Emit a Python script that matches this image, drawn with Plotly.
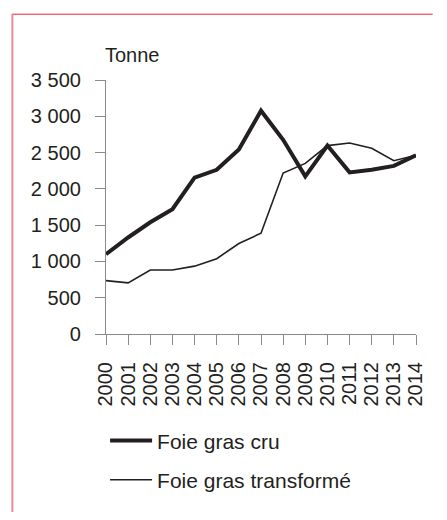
import plotly.graph_objects as go

years = list(range(2000, 2015))
foie_gras_cru = [1100, 1330, 1540, 1720, 2155, 2262, 2543, 3077, 2676, 2173,
                 2596, 2227, 2262, 2316, 2463]
foie_gras_transforme = [735, 704, 882, 882, 935, 1038, 1247, 1389, 2218, 2351,
                        2596, 2632, 2560, 2387, 2463]
y_tickvals = [0, 500, 1000, 1500, 2000, 2500, 3000, 3500]
y_ticktext = ["0", "500", "1 000", "1 500", "2 000", "2 500", "3 000", "3 500"]

INK = "#231f20"
AXIS = "#8a8a8a"
FRAME = "#e5243b"
FRAME_SIDE = "#f2899a"
FONT = "Liberation Sans, Arial, sans-serif"

fig = go.Figure()
fig.add_trace(go.Scatter(
    x=years, y=foie_gras_cru, mode="lines", name="Foie gras cru",
    line=dict(color=INK, width=4), legendgroup="a",
))
fig.add_trace(go.Scatter(
    x=years, y=foie_gras_transforme, mode="lines", name="Foie gras transformé",
    line=dict(color=INK, width=1.6), legendgroup="b",
))

# page body keeps an 8px margin, so the figure is sized to fit inside it
fig.update_layout(
    width=431, height=504,
    margin=dict(l=98, r=17, t=72, b=170),
    plot_bgcolor="white", paper_bgcolor="white",
    font=dict(family=FONT, size=20, color=INK),
    showlegend=True,
    legend=dict(
        x=-0.003, y=-0.34, xanchor="left", yanchor="top",
        font=dict(size=21, color=INK),
        itemwidth=42, tracegroupgap=9,
        bgcolor="rgba(0,0,0,0)",
    ),
    xaxis=dict(
        range=[2000, 2014], tickvals=years, ticktext=[str(y) for y in years],
        tickangle=-90, ticks="outside", ticklen=10, tickcolor=AXIS,
        showline=True, linecolor=AXIS, linewidth=1.2, showgrid=False,
        zeroline=False, ticklabelstandoff=9,
    ),
    yaxis=dict(
        range=[0, 3500], tickvals=y_tickvals, ticktext=y_ticktext,
        ticks="outside", ticklen=10, tickcolor=AXIS,
        showline=True, linecolor=AXIS, linewidth=1.2, showgrid=False,
        zeroline=False, ticklabelstandoff=10,
    ),
    annotations=[dict(
        text="Tonne", xref="paper", yref="paper", x=-0.01, y=1.1,
        xanchor="left", yanchor="middle", showarrow=False,
        font=dict(size=20, color=INK),
    )],
    # frame: only the top and left edges fall inside the picture
    shapes=[
        dict(type="line", xref="paper", yref="paper",
             x0=-0.304, x1=1.054, y0=1.259, y1=1.259,
             line=dict(color=FRAME, width=1)),
        dict(type="line", xref="paper", yref="paper",
             x0=-0.302, x1=-0.302, y0=1.259, y1=-0.72,
             line=dict(color=FRAME_SIDE, width=2)),
    ],
)

fig.write_html("out.html", config={"displayModeBar": False})
